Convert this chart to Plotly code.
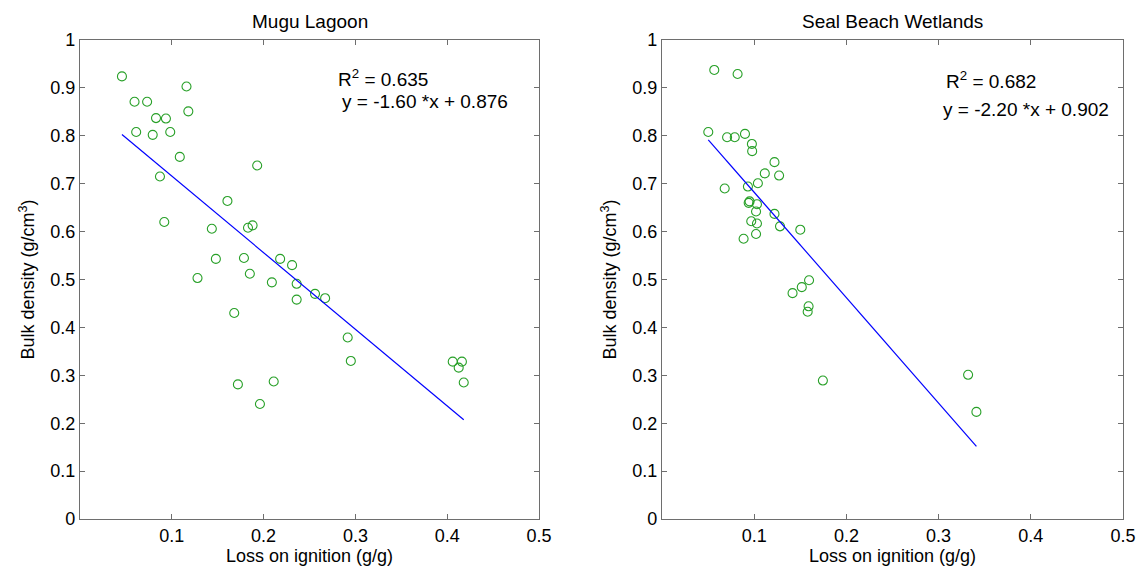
import plotly.graph_objects as go

# Mugu Lagoon data
mugu_loi = [0.0457, 0.116, 0.0594, 0.0731, 0.118, 0.0828, 0.0936, 0.0612, 0.0792, 0.0983,
            0.1087, 0.193, 0.0871, 0.1606, 0.0918, 0.1436, 0.183, 0.188, 0.148, 0.1786,
            0.218, 0.231, 0.185, 0.128, 0.209, 0.236, 0.256, 0.267, 0.236, 0.168,
            0.211, 0.172, 0.196, 0.2916, 0.295, 0.406, 0.416, 0.4125, 0.418]
mugu_bd = [0.924, 0.903, 0.871, 0.871, 0.851, 0.837, 0.836, 0.808, 0.802, 0.808,
           0.756, 0.738, 0.715, 0.664, 0.620, 0.606, 0.608, 0.613, 0.543, 0.545,
           0.543, 0.530, 0.512, 0.503, 0.494, 0.491, 0.470, 0.461, 0.458, 0.430,
           0.287, 0.281, 0.240, 0.379, 0.330, 0.3285, 0.3285, 0.316, 0.285]

# Seal Beach Wetlands data
seal_loi = [0.0567, 0.082, 0.0502, 0.0706, 0.0789, 0.090, 0.0975, 0.0978, 0.122, 0.1115,
            0.127, 0.068, 0.0932, 0.104, 0.094, 0.095, 0.103, 0.102, 0.122, 0.0968,
            0.103, 0.128, 0.150, 0.102, 0.0885, 0.1595, 0.1516, 0.1416, 0.159, 0.158,
            0.1745, 0.332, 0.341]
seal_bd = [0.9375, 0.929, 0.808, 0.797, 0.797, 0.804, 0.783, 0.768, 0.745, 0.7215,
           0.717, 0.690, 0.694, 0.701, 0.660, 0.663, 0.657, 0.642, 0.637, 0.6215,
           0.617, 0.611, 0.604, 0.595, 0.585, 0.4985, 0.484, 0.4715, 0.444, 0.4327,
           0.289, 0.301, 0.2236]

# Fits
mugu_fit = (-1.60, 0.876, 0.635)
seal_fit = (-2.20, 0.902, 0.682)

x_ticks = [0.1, 0.2, 0.3, 0.4, 0.5]
x_tick_text = ["0.1", "0.2", "0.3", "0.4", "0.5"]
y_ticks = [0, 0.1, 0.2, 0.3, 0.4, 0.5, 0.6, 0.7, 0.8, 0.9, 1]
y_tick_text = ["0", "0.1", "0.2", "0.3", "0.4", "0.5", "0.6", "0.7", "0.8", "0.9", "1"]

FONT = "Liberation Sans, Arial, sans-serif"
GREEN = "rgb(40,160,40)"

fig = go.Figure()

def add_panel(xs, ys, fit, xa, ya):
    m, b, r2 = fit
    fig.add_trace(go.Scatter(x=xs, y=ys, mode="markers", xaxis=xa, yaxis=ya,
                             marker=dict(symbol="circle-open", size=9, color=GREEN,
                                         line=dict(width=1.1, color=GREEN)),
                             showlegend=False, hoverinfo="x+y"))
    x0, x1 = min(xs), max(xs)
    fig.add_trace(go.Scatter(x=[x0, x1], y=[m * x0 + b, m * x1 + b], mode="lines",
                             xaxis=xa, yaxis=ya, line=dict(color="rgb(0,0,255)", width=1.2),
                             showlegend=False, hoverinfo="skip"))

add_panel(mugu_loi, mugu_bd, mugu_fit, "x", "y")
add_panel(seal_loi, seal_bd, seal_fit, "x2", "y2")

axis_common = dict(showline=True, linecolor="rgb(110,110,110)", linewidth=1.2, mirror="ticks",
                   ticks="inside", ticklen=5, tickcolor="rgb(110,110,110)", tickwidth=1,
                   showgrid=False, zeroline=False,
                   tickfont=dict(family=FONT, size=18, color="black"))

xcommon = dict(axis_common, range=[0, 0.5], tickvals=x_ticks, ticktext=x_tick_text,
               title=dict(text="Loss on ignition (g/g)", font=dict(family=FONT, size=18, color="black"),
                          standoff=4))
ycommon = dict(axis_common, range=[0, 1], tickvals=y_ticks, ticktext=y_tick_text,
               title=dict(text="Bulk density (g/cm<sup>3</sup>)", font=dict(family=FONT, size=18, color="black"),
                          standoff=10))

fig.update_layout(
    width=1148, height=574,
    margin=dict(l=80, r=16, t=40, b=54),
    paper_bgcolor="white", plot_bgcolor="white",
    xaxis=dict(xcommon, domain=[0, 0.4401], anchor="y"),
    yaxis=dict(ycommon, domain=[0, 1], anchor="x"),
    xaxis2=dict(xcommon, domain=[0.558, 1], anchor="y2"),
    yaxis2=dict(ycommon, domain=[0, 1], anchor="x2"),
)

ann_font = dict(family=FONT, size=19, color="black")
annotations = [
    dict(text="Mugu Lagoon", xref="x domain", yref="paper", x=0.5, y=1, yshift=6,
         yanchor="bottom", showarrow=False, font=ann_font),
    dict(text="Seal Beach Wetlands", xref="x2 domain", yref="paper", x=0.5, y=1, yshift=6,
         yanchor="bottom", showarrow=False, font=ann_font),
    dict(text="R<sup>2</sup> = %.3f" % mugu_fit[2], xref="x", yref="y", x=0.279, y=0.921,
         xanchor="left", yanchor="middle", showarrow=False, font=ann_font),
    dict(text="y = %.2f *x + %.3f" % (mugu_fit[0], mugu_fit[1]), xref="x", yref="y", x=0.283, y=0.871,
         xanchor="left", yanchor="middle", showarrow=False, font=ann_font),
    dict(text="R<sup>2</sup> = %.3f" % seal_fit[2], xref="x2", yref="y2", x=0.306, y=0.917,
         xanchor="left", yanchor="middle", showarrow=False, font=ann_font),
    dict(text="y = %.2f *x + %.3f" % (seal_fit[0], seal_fit[1]), xref="x2", yref="y2", x=0.303, y=0.854,
         xanchor="left", yanchor="middle", showarrow=False, font=ann_font),
]
fig.update_layout(annotations=annotations)

fig.write_html("out.html", config={"displayModeBar": False},
               post_script="document.body.style.margin='0';document.body.style.padding='0';")
